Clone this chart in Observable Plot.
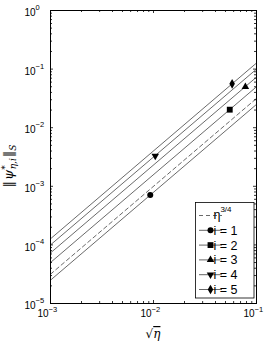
<!DOCTYPE html>
<html><head><meta charset="utf-8">
<script src="https://cdn.jsdelivr.net/npm/d3@7"></script>
<script src="https://cdn.jsdelivr.net/npm/@observablehq/plot@0.6"></script>
<style>body{margin:0;background:#fff}</style>
</head><body><div id="chart"></div>
<script>
// ---- data ----
const series = ["i = 1", "i = 2", "i = 3", "i = 4", "i = 5"];
const lineX = [1e-3, 1e-1];
const lineStartY = [2.5e-5, 5.0e-5, 7.3e-5, 1.0e-4, 1.27e-4];
const lineEndY = [2.5e-2, 5.0e-2, 7.3e-2, 1.0e-1, 1.27e-1];
const refLabel = "η";
const refExp = "3/4";
const refY = [3.16e-5, 3.16e-2];
const markerX = [0.0093, 0.055, 0.078, 0.0104, 0.058];
const markerY = [7.1e-4, 0.0203, 0.050, 0.0033, 0.056];
const xTickExp = [-3, -2, -1];
const yTickExp = [0, -1, -2, -3, -4, -5];

// ---- build tables ----
const lines = series.flatMap((s, i) => [
  {s, x: lineX[0], y: lineStartY[i]},
  {s, x: lineX[1], y: lineEndY[i]}
]);
const ref = lineX.map((x, j) => ({x, y: refY[j]}));
const triDown = {draw(ctx, size) {
  const y = -Math.sqrt(size / (3 * Math.sqrt(3)));
  ctx.moveTo(0, -y * 2); ctx.lineTo(-Math.sqrt(3) * y, y); ctx.lineTo(Math.sqrt(3) * y, y); ctx.closePath();
}};
const symbols = [d3.symbolCircle, d3.symbolSquare, d3.symbolTriangle, triDown, d3.symbolDiamond];
const radii = [3, 3.3, 2.8, 2.8, 2.9];
const markers = series.map((s, i) => ({s, x: markerX[i], y: markerY[i]}));

const xMajor = xTickExp.map(e => 10 ** e);
const yMajor = yTickExp.map(e => 10 ** e);
const xMinor = xTickExp.slice(0, -1).flatMap(e => d3.range(2, 10).map(m => m * 10 ** e));
const yMinor = yTickExp.slice(1).flatMap(e => d3.range(2, 10).map(m => m * 10 ** e));

const W = 266, H = 341, mL = 50, mT = 10, mR = 10, mB = 38;
const pW = W - mL - mR, pH = H - mT - mB;
const MAJ = 3, MIN = 2;
const sup = s => s.replace("-", "\u2212");
const font = "Liberation Sans, Arial, Helvetica, sans-serif";

const tickMarks = (vals, len) => [
  Plot.tickX(vals, {x: d => d, insetTop: pH - len, stroke: "black", strokeWidth: 0.8}),
  Plot.tickX(vals, {x: d => d, insetBottom: pH - len, stroke: "black", strokeWidth: 0.8})
];
const tickMarksY = (vals, len) => [
  Plot.tickY(vals, {y: d => d, insetRight: pW - len, stroke: "black", strokeWidth: 0.8}),
  Plot.tickY(vals, {y: d => d, insetLeft: pW - len, stroke: "black", strokeWidth: 0.8})
];

const plot = Plot.plot({
  width: W, height: H,
  marginLeft: mL, marginTop: mT, marginRight: mR, marginBottom: mB,
  x: {type: "log", domain: [1e-3, 1e-1], axis: null},
  y: {type: "log", domain: [1e-5, 1], axis: null},
  style: {fontFamily: font, background: "white", overflow: "visible"},
  marks: [
    Plot.line(lines, {x: "x", y: "y", z: "s", stroke: "#444", strokeWidth: 0.8}),
    Plot.line(ref, {x: "x", y: "y", stroke: "#444", strokeWidth: 0.8, strokeDasharray: "4,3"}),
    ...series.map((s, i) => Plot.dot(markers.filter(d => d.s === s), {x: "x", y: "y", symbol: symbols[i], r: radii[i], fill: "black"})),
    ...tickMarks(xMajor, MAJ), ...tickMarks(xMinor, MIN),
    ...tickMarksY(yMajor, MAJ), ...tickMarksY(yMinor, MIN),
    Plot.frame({stroke: "black", strokeWidth: 1}),
    // x tick labels
    Plot.text(xTickExp, {x: e => 10 ** e, text: () => "10", frameAnchor: "bottom", textAnchor: "end", dx: -2, dy: 13.5, fontSize: 10, fill: "black"}),
    Plot.text(xTickExp, {x: e => 10 ** e, text: e => sup(String(e)), frameAnchor: "bottom", textAnchor: "start", dx: -2, dy: 8, fontSize: 7.5, fill: "black"}),
    // y tick labels
    Plot.text(yTickExp, {y: e => 10 ** e, text: () => "10", frameAnchor: "left", textAnchor: "end", dx: -15, dy: 2.5, fontSize: 10, fill: "black"}),
    Plot.text(yTickExp, {y: e => 10 ** e, text: e => sup(String(e)), frameAnchor: "left", textAnchor: "start", dx: -15, dy: -3, fontSize: 7.5, fill: "black"})
  ]
});

const svg = d3.select(plot);
// y-axis label
const yl = svg.append("text")
  .attr("transform", "translate(13,166) rotate(-90)")
  .attr("text-anchor", "middle")
  .attr("font-family", "DejaVu Serif, serif")
  .attr("font-size", 13).attr("fill", "black");
yl.append("tspan").text("\u2016");
yl.append("tspan").attr("font-style", "italic").attr("dx", 1).text("ψ");
yl.append("tspan").attr("font-size", 9).attr("dy", -5).text("*");
yl.append("tspan").attr("font-size", 9).attr("font-style", "italic").attr("dx", -4).attr("dy", 8).text("η,i");
yl.append("tspan").attr("dy", -3).attr("dx", 1).text("\u2016");
yl.append("tspan").attr("font-size", 9).attr("font-style", "italic").attr("dy", 3).text("S");

// x-axis label
const xl = svg.append("text")
  .attr("x", mL + pW / 2).attr("y", 338)
  .attr("text-anchor", "middle")
  .attr("font-family", "DejaVu Serif, serif")
  .attr("font-size", 12).attr("fill", "black");
xl.append("tspan").text("√");
xl.append("tspan").attr("font-style", "italic").style("text-decoration", "overline").text("η");

// legend
const lg = svg.append("g").attr("font-family", font);
const bx = 195.5, by = 202.5, bw = 58.5, bh = 95.5;
lg.append("rect").attr("x", bx).attr("y", by).attr("width", bw).attr("height", bh)
  .attr("fill", "white").attr("stroke", "black").attr("stroke-width", 0.8);
const rowY0 = 215.5, rowDy = 14.8;
const lx1 = 199, lx2 = 222, tx = 225.5;
lg.append("line").attr("x1", lx1).attr("x2", lx2).attr("y1", rowY0).attr("y2", rowY0)
  .attr("stroke", "#444").attr("stroke-width", 0.8).attr("stroke-dasharray", "4,3");
const et = lg.append("text").attr("x", 222.5).attr("y", rowY0 + 3).attr("font-size", 12.5).attr("fill", "black");
et.append("tspan").text(refLabel);
et.append("tspan").attr("font-size", 8).attr("dy", -7).text(refExp);
series.forEach((s, i) => {
  const y = rowY0 + rowDy * (i + 1);
  lg.append("line").attr("x1", lx1).attr("x2", lx2).attr("y1", y).attr("y2", y)
    .attr("stroke", "#555").attr("stroke-width", 0.9);
  lg.append("path").attr("transform", `translate(${(lx1 + lx2) / 2},${y})`)
    .attr("d", d3.symbol(symbols[i], Math.PI * radii[i] ** 2)()).attr("fill", "black");
  lg.append("text").attr("x", tx).attr("y", y + 4.5).attr("font-size", 12.5).attr("fill", "black").text(s);
});

document.getElementById("chart").appendChild(plot);
</script>
</body></html>
